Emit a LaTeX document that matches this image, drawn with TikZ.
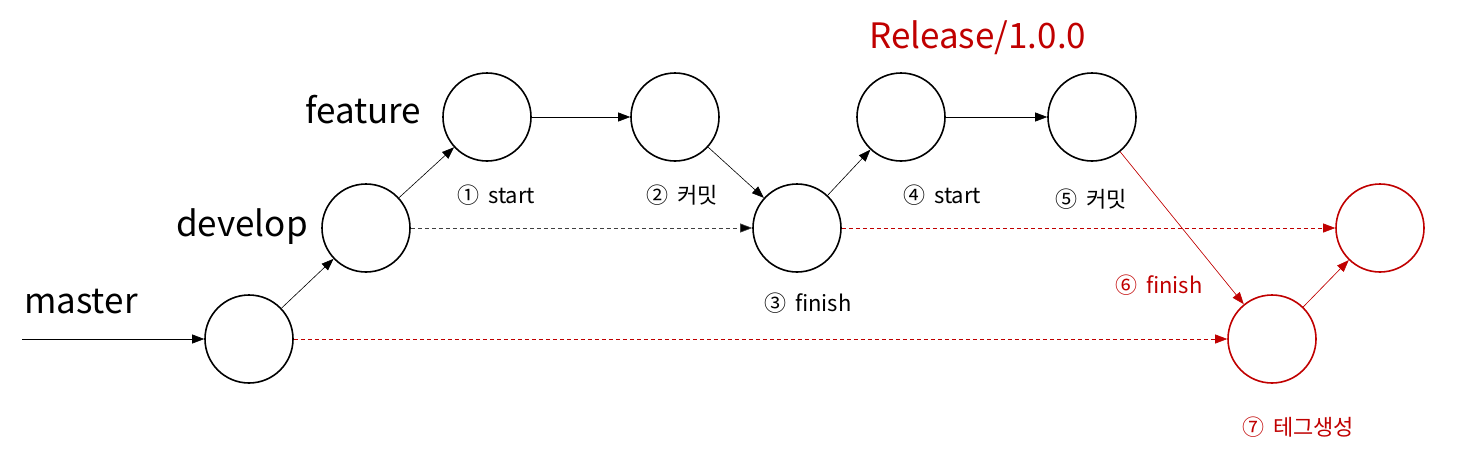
\documentclass[tikz,border=0pt]{standalone}
\usepackage{fontspec}
\setmainfont{Noto Sans CJK KR}
\usetikzlibrary{arrows.meta}
\definecolor{myred}{HTML}{C00000}
\definecolor{dashgray}{HTML}{404040}
\newcommand{\gapx}{\hspace{9pt}}
\begin{document}
\begin{tikzpicture}[x=1pt,y=-1pt,
  commit/.style={circle,draw,line width=1.6pt,minimum size=88pt,inner sep=0pt},
  redcommit/.style={commit,draw=myred},
  conn/.style={line width=0.6pt,-{Triangle[length=12pt,width=9pt]}},
  redconn/.style={conn,draw=myred,fill=myred},
  dashconn/.style={conn,draw=dashgray,dash pattern=on 4pt off 3pt,-{Triangle[length=12pt,width=9pt,fill=black]}},
  reddash/.style={conn,draw=myred,dash pattern=on 4pt off 3pt,-{Triangle[length=12pt,width=9pt,fill=myred]}},
  biglabel/.style={anchor=base west,inner sep=0pt,font=\fontsize{35}{38}\selectfont},
  smalllabel/.style={anchor=base west,inner sep=0pt,font=\fontsize{22}{25}\selectfont}
]
\useasboundingbox (0,0) rectangle (1470,456);
\node[commit] (m) at (249,339) {};
\node[commit] (d) at (366,228) {};
\node[commit] (f1) at (487,117) {};
\node[commit] (f2) at (675,117) {};
\node[commit] (d3) at (797,228) {};
\node[commit] (r4) at (901,117) {};
\node[commit] (r5) at (1092,117) {};
\node[redcommit] (rm) at (1272,339) {};
\node[redcommit] (rd) at (1380,228) {};
\coordinate (start) at (22,339);

\node[biglabel] (lm) at (24,313) {master};
\node[biglabel] (ld) at (176,236) {develop};
\node[biglabel] (lf) at (305,123) {feature};
\node[biglabel,text=myred] (lr) at (869,48) {Release/1.0.0};

\node[smalllabel] (t1) at (457,203) {①\gapx start};
\node[smalllabel] (t2) at (646,203) {②\gapx 커밋};
\node[smalllabel] (t3) at (764,311) {③\gapx finish};
\node[smalllabel] (t4) at (903,203) {④\gapx start};
\node[smalllabel] (t5) at (1055,207) {⑤\gapx 커밋};
\node[smalllabel,text=myred] (t6) at (1115,293) {⑥\gapx finish};
\node[smalllabel,text=myred] (t7) at (1242,435) {⑦\gapx 테그생성};

\draw[conn] (start) -- (m);
\draw[conn] (m) -- (d);
\draw[conn] (d) -- (f1);
\draw[conn] (f1) -- (f2);
\draw[conn] (f2) -- (d3);
\draw[conn] (d3) -- (r4);
\draw[conn] (r4) -- (r5);
\draw[redconn] (r5) -- (rm);
\draw[redconn] (rm) -- (rd);
\draw[dashconn] (d) -- (d3);
\draw[reddash] (d3) -- (rd);
\draw[reddash] (m) -- (rm);
\end{tikzpicture}
\end{document}
